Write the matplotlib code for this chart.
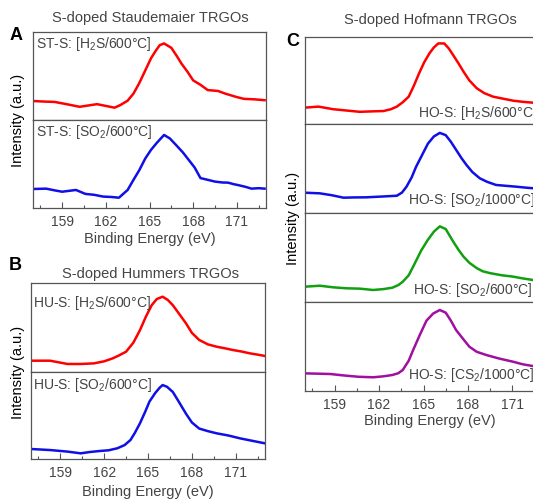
import matplotlib
matplotlib.use("Agg")
import matplotlib.pyplot as plt
from matplotlib.ticker import MultipleLocator

plt.rcParams['font.family'] = ['Liberation Sans', 'DejaVu Sans']
plt.rcParams['mathtext.default'] = 'regular'

# ---------------- data (normalised intensity, a.u.) ----------------
st_h2s_e = [157.0, 157.7, 158.5, 159.3, 160.2, 160.8, 161.4, 162.0, 162.6, 163.0, 163.5, 163.9, 164.3, 164.7, 165.1, 165.4, 165.7, 166.0, 166.5, 166.9, 167.2, 167.6, 168.0, 168.5, 169.0, 169.7, 170.2, 170.6, 171.0, 171.5, 172.2, 172.9]
st_h2s_i = [0.216, 0.21, 0.205, 0.18, 0.15, 0.165, 0.18, 0.16, 0.14, 0.17, 0.22, 0.30, 0.42, 0.56, 0.70, 0.78, 0.85, 0.87, 0.82, 0.72, 0.64, 0.55, 0.45, 0.40, 0.34, 0.33, 0.30, 0.28, 0.26, 0.24, 0.235, 0.225]

st_so2_e = [157.0, 157.9, 158.5, 159.0, 159.95, 160.6, 161.2, 161.8, 162.4, 162.9, 163.5, 163.9, 164.3, 164.7, 165.1, 165.5, 166.0, 166.4, 166.8, 167.3, 167.7, 168.1, 168.5, 169.0, 169.5, 170.0, 170.4, 170.8, 171.1, 171.6, 172.0, 172.5, 172.9]
st_so2_i = [0.216, 0.22, 0.20, 0.185, 0.205, 0.16, 0.15, 0.13, 0.125, 0.117, 0.205, 0.32, 0.43, 0.56, 0.66, 0.74, 0.83, 0.79, 0.72, 0.63, 0.545, 0.46, 0.34, 0.32, 0.30, 0.29, 0.288, 0.27, 0.26, 0.24, 0.22, 0.225, 0.22]

hu_h2s_e = [157.0, 158.3, 159.5, 160.4, 161.3, 162.0, 162.6, 163.0, 163.5, 164.0, 164.45, 164.85, 165.25, 165.6, 166.0, 166.35, 166.7, 167.1, 167.6, 168.0, 168.5, 169.1, 169.7, 170.3, 170.8, 171.4, 171.95, 172.5, 173.0]
hu_h2s_i = [0.127, 0.127, 0.09, 0.09, 0.097, 0.12, 0.154, 0.185, 0.228, 0.33, 0.47, 0.62, 0.75, 0.82, 0.846, 0.81, 0.75, 0.66, 0.546, 0.44, 0.36, 0.31, 0.284, 0.265, 0.247, 0.23, 0.21, 0.195, 0.18]

hu_so2_e = [157.0, 158.3, 159.5, 160.4, 161.0, 161.7, 162.3, 162.9, 163.4, 163.8, 164.1, 164.45, 164.8, 165.1, 165.5, 165.8, 166.0, 166.3, 166.7, 167.1, 167.6, 168.0, 168.5, 169.1, 169.7, 170.5, 171.3, 172.1, 173.0]
hu_so2_i = [0.115, 0.103, 0.085, 0.065, 0.08, 0.092, 0.10, 0.123, 0.16, 0.218, 0.30, 0.41, 0.54, 0.66, 0.76, 0.82, 0.85, 0.83, 0.77, 0.66, 0.52, 0.42, 0.35, 0.32, 0.295, 0.27, 0.237, 0.21, 0.18]

ho_h2s_e = [157.0, 157.9, 158.9, 159.8, 160.7, 161.5, 162.3, 162.8, 163.2, 163.6, 164.0, 164.35, 164.7, 165.05, 165.4, 165.7, 166.0, 166.4, 166.7, 167.0, 167.35, 167.7, 168.1, 168.6, 169.1, 169.7, 170.4, 171.05, 171.7, 172.4, 173.0]
ho_h2s_i = [0.188, 0.20, 0.17, 0.155, 0.14, 0.145, 0.149, 0.17, 0.20, 0.25, 0.314, 0.44, 0.582, 0.71, 0.812, 0.88, 0.926, 0.926, 0.87, 0.793, 0.70, 0.602, 0.50, 0.41, 0.355, 0.314, 0.29, 0.268, 0.255, 0.245, 0.24]

ho_so2h_e = [157.0, 158.0, 158.8, 159.6, 160.3, 161.1, 162.2, 163.2, 163.55, 163.85, 164.2, 164.5, 164.9, 165.3, 165.7, 166.1, 166.5, 166.85, 167.2, 167.55, 167.9, 168.3, 168.8, 169.3, 169.9, 170.6, 171.3, 171.9, 172.4, 173.0]
ho_so2h_i = [0.228, 0.221, 0.20, 0.172, 0.175, 0.176, 0.185, 0.194, 0.23, 0.295, 0.40, 0.52, 0.65, 0.78, 0.86, 0.90, 0.875, 0.80, 0.71, 0.62, 0.54, 0.46, 0.39, 0.35, 0.315, 0.305, 0.295, 0.285, 0.278, 0.27]

ho_so2l_e = [157.0, 158.0, 158.9, 159.8, 160.7, 161.6, 162.3, 162.9, 163.3, 163.6, 164.0, 164.3, 164.85, 165.3, 165.7, 166.1, 166.5, 167.0, 167.35, 167.7, 168.1, 168.6, 169.0, 169.5, 170.3, 171.05, 171.7, 172.4, 173.0]
ho_so2l_i = [0.172, 0.183, 0.165, 0.154, 0.15, 0.135, 0.145, 0.161, 0.19, 0.228, 0.30, 0.397, 0.58, 0.70, 0.79, 0.85, 0.82, 0.68, 0.59, 0.51, 0.44, 0.38, 0.345, 0.324, 0.30, 0.285, 0.265, 0.247, 0.24]

ho_cs2_e = [157.0, 157.8, 158.7, 159.6, 160.6, 161.6, 162.3, 162.9, 163.3, 163.6, 164.0, 164.3, 164.75, 165.2, 165.65, 166.1, 166.5, 166.85, 167.2, 167.65, 168.1, 168.6, 169.25, 170.1, 171.05, 171.7, 172.4, 173.0]
ho_cs2_i = [0.198, 0.195, 0.191, 0.175, 0.16, 0.154, 0.165, 0.18, 0.20, 0.236, 0.34, 0.46, 0.63, 0.79, 0.87, 0.91, 0.88, 0.79, 0.685, 0.59, 0.497, 0.44, 0.404, 0.365, 0.329, 0.30, 0.28, 0.27]

xticks = [159, 162, 165, 168, 171]

# ---------------- layout helpers ----------------
W, H = 533, 499
fig = plt.figure(figsize=(W / 100, H / 100), dpi=100)

def box(l, t, r, b):
    return [l / W, 1 - b / H, (r - l) / W, (b - t) / H]

def fx(x):
    return x / W

def fy(y):
    return 1 - y / H

SPINE = '#555555'
TXT = '#444444'
LW = 1.8

def make_panel(left, right, rows, series, xlim):
    axes = []
    n = len(rows) - 1
    for k in range(n):
        ax = fig.add_axes(box(left, rows[k], right, rows[k + 1]))
        e, i, c = series[k]
        ax.plot(e, i, color=c, lw=LW, solid_joinstyle='round')
        ax.set_xlim(*xlim)
        ax.set_ylim(0, 1)
        ax.set_yticks([])
        for s in ax.spines.values():
            s.set_color(SPINE)
            s.set_linewidth(0.9)
        if k < n - 1:
            ax.set_xticks([])
        else:
            ax.set_xticks(xticks)
            ax.xaxis.set_minor_locator(MultipleLocator(1.5))
            ax.tick_params(axis='x', which='major', direction='in', length=4,
                           width=0.8, color=SPINE, labelsize=10, labelcolor=TXT, pad=5)
            ax.tick_params(axis='x', which='minor', direction='in', length=2.5,
                           width=0.8, color=SPINE)
        axes.append(ax)
    return axes

# Panel A
make_panel(33, 266, [32, 120, 208],
           [(st_h2s_e, st_h2s_i, '#ff0000'), (st_so2_e, st_so2_i, '#0f0fe6')],
           (157, 173))
# Panel B
make_panel(31, 265, [283, 372, 459],
           [(hu_h2s_e, hu_h2s_i, '#ff0000'), (hu_so2_e, hu_so2_i, '#0f0fe6')],
           (157, 173))
# Panel C (extends past the right edge, as in the reference)
make_panel(305, 542, [37, 124, 213, 302, 391],
           [(ho_h2s_e, ho_h2s_i, '#ff0000'), (ho_so2h_e, ho_so2h_i, '#0f0fe6'),
            (ho_so2l_e, ho_so2l_i, '#10a010'), (ho_cs2_e, ho_cs2_i, '#a010a0')],
           (157, 173))

# titles / letters
fig.text(fx(150), fy(18), 'S-doped Staudemaier TRGOs', ha='center', va='center', fontsize=10.5, color=TXT)
fig.text(fx(150), fy(274), 'S-doped Hummers TRGOs', ha='center', va='center', fontsize=10.5, color=TXT)
fig.text(fx(430), fy(20), 'S-doped Hofmann TRGOs', ha='center', va='center', fontsize=10.5, color=TXT)
fig.text(fx(16), fy(36), 'A', ha='center', va='center', fontsize=13, fontweight='bold', color='black')
fig.text(fx(15), fy(265), 'B', ha='center', va='center', fontsize=13, fontweight='bold', color='black')
fig.text(fx(293), fy(42), 'C', ha='center', va='center', fontsize=13, fontweight='bold', color='black')

# axis labels
for (x, y) in [(150, 239), (148, 492), (430, 421)]:
    fig.text(fx(x), fy(y), 'Binding Energy (eV)', ha='center', va='center', fontsize=10.5, color=TXT)
for (x, y) in [(18, 120), (18, 372), (293, 218)]:
    fig.text(fx(x), fy(y), 'Intensity (a.u.)', ha='center', va='center', rotation=90, fontsize=10.5, color='black')

# series labels
labels = [
    (36, 44, 'ST-S: [H$_2$S/600°C]'),
    (36, 132, 'ST-S: [SO$_2$/600°C]'),
    (33, 303, 'HU-S: [H$_2$S/600°C]'),
    (33, 385, 'HU-S: [SO$_2$/600°C]'),
    (418, 113, 'HO-S: [H$_2$S/600°C]'),
    (408, 200, 'HO-S: [SO$_2$/1000°C]'),
    (413, 290, 'HO-S: [SO$_2$/600°C]'),
    (408, 375, 'HO-S: [CS$_2$/1000°C]'),
]
for x, y, s in labels:
    fig.text(fx(x), fy(y), s, ha='left', va='center', fontsize=10, color=TXT)

fig.savefig('out.png', dpi=100)
